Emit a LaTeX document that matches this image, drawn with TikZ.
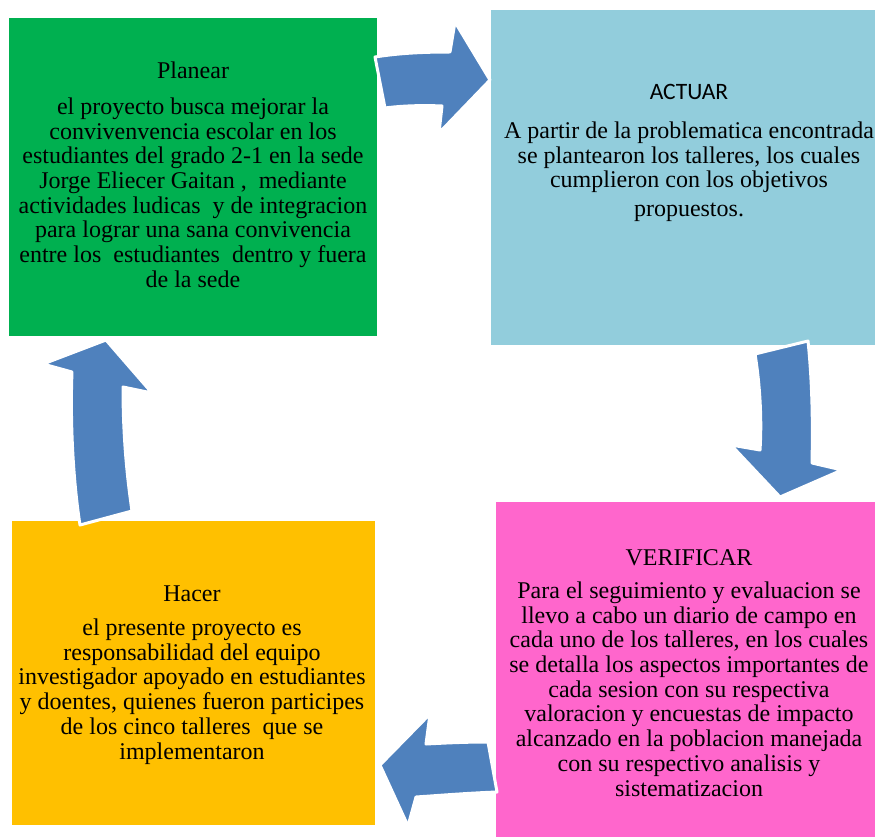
\documentclass[tikz,border=0pt]{standalone}
\usepackage{fontspec}
\setmainfont{Liberation Serif}
\newfontfamily\actfont{Carlito}
\definecolor{plangreen}{HTML}{00B050}
\definecolor{actblue}{HTML}{92CDDC}
\definecolor{verpink}{HTML}{FF66CC}
\definecolor{hacyellow}{HTML}{FFC000}
\definecolor{arrowblue}{HTML}{4F81BD}

\begin{document}
\begin{tikzpicture}[
                x=1pt, y=-1pt,
                phase/.style={
                    rectangle,
                    inner sep=0pt,
                    outer sep=0pt,
                },
                phasetext/.style={
                    anchor=base,
                    align=center,
                    inner sep=0pt,
                    font=\fontsize{24}{24.7}\selectfont,
                },
                cyclearrow/.style={
                    fill=arrowblue,
                    draw=white,
                    line width=3pt,
                    line join=round,
                },
            ]
            \useasboundingbox (0,0) rectangle (875,837);

            \node [phase, fill=plangreen, minimum width=368pt, minimum height=318pt]
                (planear) at (193,177) {};
            \node [phase, fill=actblue, minimum width=384pt, minimum height=335pt]
                (actuar) at (683,177.5) {};
            \node [phase, fill=verpink, minimum width=379pt, minimum height=335pt]
                (verificar) at (685.5,669.5) {};
            \node [phase, fill=hacyellow, minimum width=363pt, minimum height=304pt]
                (hacer) at (193.5,673) {};

            \node [phasetext] (planeartext) at (193,287.3) {Planear\\[11pt]
                el proyecto busca mejorar la\\
                convivenvencia escolar en los\\
                estudiantes del grado 2-1 en la sede\\
                Jorge Eliecer Gaitan ,\ \ mediante\\
                actividades ludicas\ \ y de integracion\\
                para lograr una sana convivencia\\
                entre los\ \ estudiantes\ \ dentro y fuera\\
                de la sede};
            \node [phasetext] (actuartext) at (689,216.7) {{\actfont\fontsize{23.5}{24}\selectfont ACTUAR}\\[14pt]
                A partir de la problematica encontrada\\
                se plantearon los talleres, los cuales\\
                cumplieron con los objetivos\\[4pt]
                propuestos.};
            \node [phasetext] (verificartext) at (689,796) {VERIFICAR\\[8.6pt]
                Para el seguimiento y evaluacion se\\
                llevo a cabo un diario de campo en\\
                cada uno de los talleres, en los cuales\\
                se detalla los aspectos importantes de\\
                cada sesion con su respectiva\\
                valoracion y encuestas de impacto\\
                alcanzado en la poblacion manejada\\
                con su respectivo analisis y\\
                sistematizacion};
            \node [phasetext] (hacertext) at (192,759) {Hacer\\[9.6pt]
                el presente proyecto es\\
                responsabilidad del equipo\\
                investigador apoyado en estudiantes\\
                y doentes, quienes fueron participes\\
                de los cinco talleres\ \ que se\\
                implementaron};

            \draw [cyclearrow] (375,57) .. controls (400,53) and (425,52) .. (450,52)
                -- (455,22) -- (490,80) -- (439,133) -- (442,106)
                .. controls (420,105) and (400,106) .. (385,108) -- cycle;
            \draw [cyclearrow] (755,354) -- (808,341)
                .. controls (812,380) and (813,420) .. (812,463)
                -- (842,470) -- (780,497) -- (731,445) -- (760,450)
                .. controls (762,420) and (760,385) .. (755,354) -- cycle;
            \draw [cyclearrow] (488,742) .. controls (465,742) and (445,743) .. (426,744)
                -- (430,714) -- (380,765) -- (408,826) -- (416,797)
                .. controls (445,795) and (470,793) .. (497,792) -- cycle;
            \draw [cyclearrow] (80,525) -- (132,511)
                .. controls (126,470) and (123,430) .. (123,387)
                -- (152,393) -- (106,340) -- (43,364) -- (72,372)
                .. controls (70,420) and (73,480) .. (80,525) -- cycle;
        \end{tikzpicture}
\end{document}
